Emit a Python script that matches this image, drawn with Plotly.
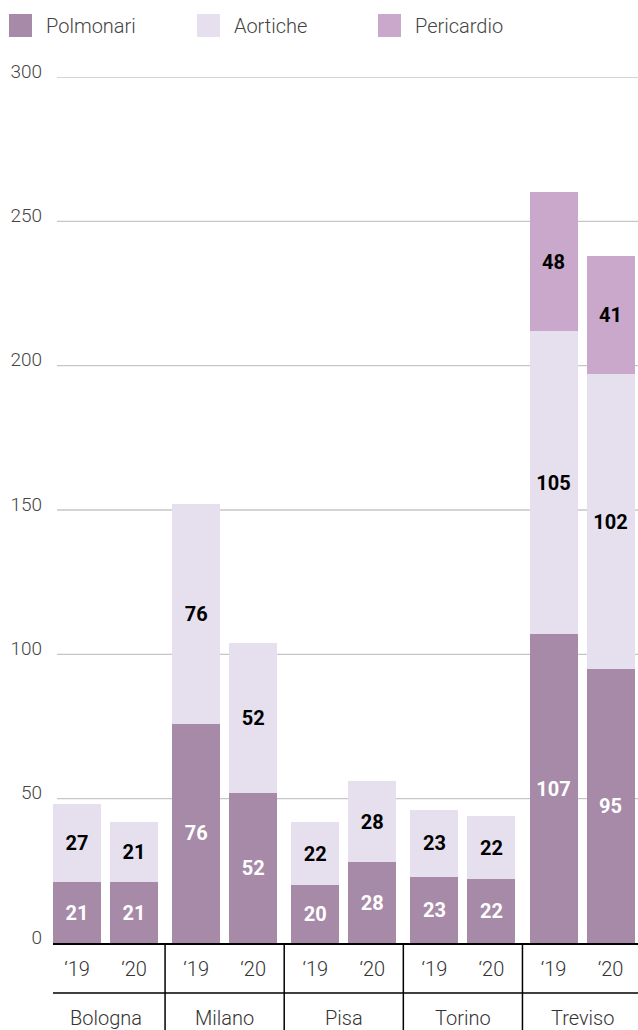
import plotly.graph_objects as go

cities = ["Bologna", "Milano", "Pisa", "Torino", "Treviso"]
years = ["\u201819", "\u201820"]
polmonari = [21, 21, 76, 52, 20, 28, 23, 22, 107, 95]
aortiche = [27, 21, 76, 52, 22, 28, 23, 22, 105, 102]
pericardio = [None, None, None, None, None, None, None, None, 48, 41]
series_names = ["Polmonari", "Aortiche", "Pericardio"]
colors = ["#a68aa8", "#e6e0ee", "#caa8cc"]
label_colors = ["white", "black", "black"]
y_ticks = [0, 50, 100, 150, 200, 250, 300]

W, H = 638, 1030
L, R, T, B = 53, 0, 77, 87
PW, PH = W - L - R, H - T - B

GROUP_STEP = 2.09   # spacing between city groups (in bar-slot units)
UNIT_PX = 57.0

def px_x(p):
    return (p - L) / PW

def px_y(p):
    return (H - B - p) / PH

# x positions for each (city, year) slot, derived from indices
xpos = [g * GROUP_STEP + k for g in range(len(cities)) for k in range(len(years))]
xtext = [yr for _ in cities for yr in years]
x_left = -(24 / UNIT_PX)
x_range = [x_left, x_left + PW / UNIT_PX]

fig = go.Figure()
for name, vals, col, lc in zip(series_names, [polmonari, aortiche, pericardio], colors, label_colors):
    fig.add_trace(go.Bar(
        x=xpos, y=vals, name=name, width=48 / UNIT_PX,
        marker=dict(color=col, line=dict(width=0)),
        texttemplate="%{y}", textposition="inside", insidetextanchor="middle",
        textfont=dict(family="Roboto", size=20, color=lc, weight="bold"),
        constraintext="none", showlegend=False, hoverinfo="skip",
    ))

shapes = []
annotations = []
# gridlines
for v in y_ticks[1:]:
    shapes.append(dict(type="line", xref="paper", yref="y", x0=px_x(57), x1=1, y0=v, y1=v,
                       line=dict(color="#c6c6c6", width=1.3), layer="below"))
# legend
legend_items = [(9, 44), (197, 232), (378, 413)]
for (sx, tx), name, col in zip(legend_items, series_names, colors):
    shapes.append(dict(type="rect", xref="paper", yref="paper",
                       x0=px_x(sx), x1=px_x(sx + 23), y0=px_y(37), y1=px_y(14),
                       fillcolor=col, line=dict(width=0)))
    annotations.append(dict(text=name, xref="paper", yref="paper", x=px_x(tx), y=px_y(26),
                            xanchor="left", yanchor="middle", showarrow=False,
                            font=dict(family="Roboto", size=20, color="#444", weight=300)))
# horizontal separator between year labels and city labels
shapes.append(dict(type="line", xref="paper", yref="paper", x0=0, x1=1,
                   y0=px_y(993), y1=px_y(993), line=dict(color="black", width=1.5)))
# dividers between cities and city labels
for g, city in enumerate(cities):
    if g > 0:
        xd = g * GROUP_STEP - (GROUP_STEP - 1) / 2
        shapes.append(dict(type="line", xref="x", yref="paper", x0=xd, x1=xd,
                           y0=0, y1=px_y(1032), line=dict(color="black", width=1.5)))
    annotations.append(dict(text=city, xref="x", yref="paper", x=g * GROUP_STEP + 0.5,
                            y=px_y(1018), xanchor="center", yanchor="middle", showarrow=False,
                            font=dict(family="Roboto", size=20, color="#333", weight=300)))

fig.update_layout(
    width=W, height=H,
    margin=dict(l=L, r=R, t=T, b=B, pad=0),
    barmode="stack",
    plot_bgcolor="white", paper_bgcolor="white",
    shapes=shapes, annotations=annotations,
    font=dict(family="Roboto", color="#444"),
)
fig.update_yaxes(
    range=[0, 300], tickvals=y_ticks, showgrid=False,
    zeroline=False, showline=False, ticks="", ticklabelshift=-6, ticklabelstandoff=10,
    tickfont=dict(family="Roboto", size=19, color="#444", weight=300),
)
fig.update_xaxes(
    range=x_range, tickvals=xpos, ticktext=xtext, showgrid=False, zeroline=False,
    showline=True, linecolor="black", linewidth=2, ticks="", ticklabelstandoff=7,
    tickfont=dict(family="Roboto", size=20, color="#333", weight=300),
)

fig.write_html("out.html", config={"displayModeBar": False},
               post_script="document.body.style.margin='0';document.body.style.overflow='hidden';")
